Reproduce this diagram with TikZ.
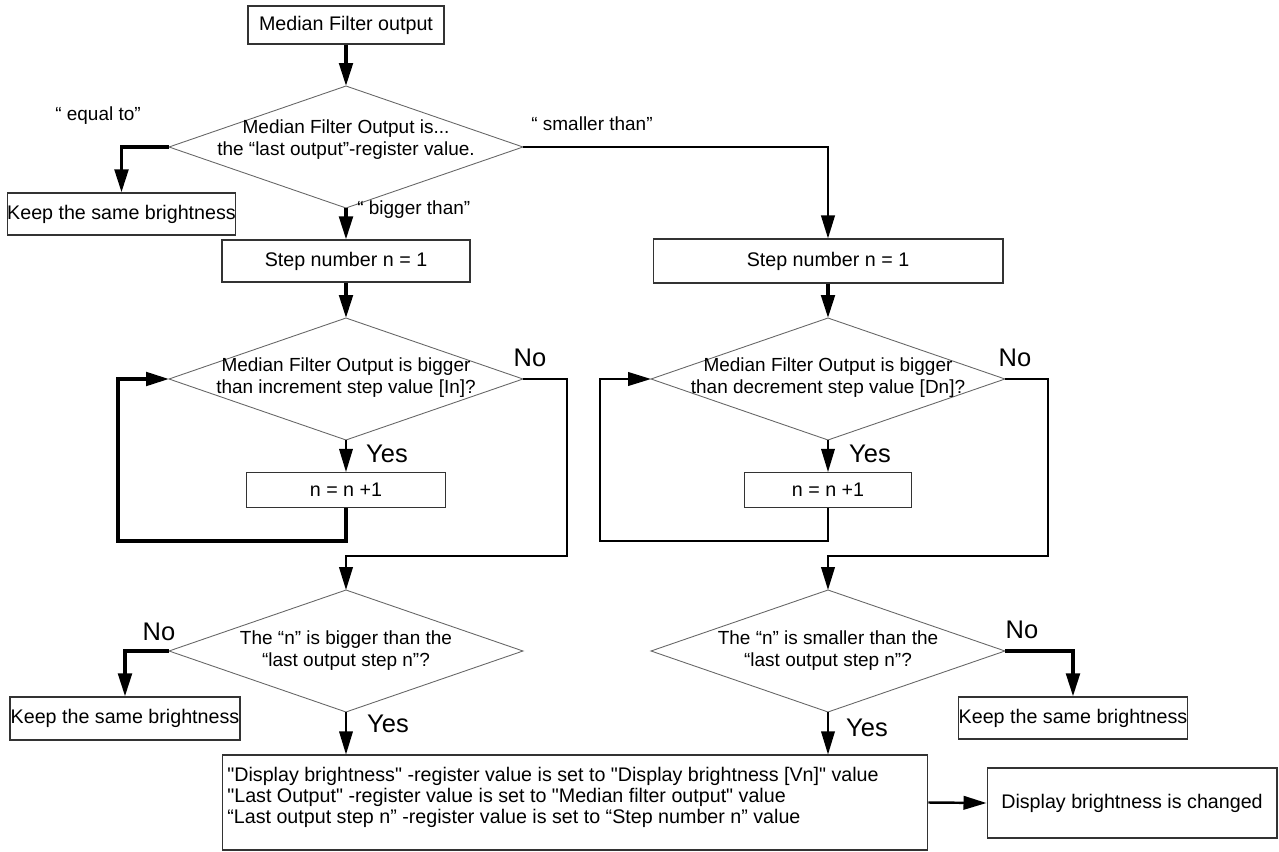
\documentclass[tikz,border=0pt]{standalone}
\usepackage{fontspec}
\setmainfont{Liberation Sans}[Ligatures=TeXOff]
\usetikzlibrary{arrows.meta,shapes.geometric}

\tikzset{
  box/.style={draw=black!80, line width=0.6pt, rectangle, inner sep=0pt,
    font=\fontsize{11.2}{13}\selectfont},
  dia/.style={draw=black!60, line width=0.5pt, diamond, inner sep=0pt, outer sep=0pt,
    minimum width=7.08cm, minimum height=2.44cm},
  dtext/.style={align=center, inner sep=0pt, font=\fontsize{10.8}{12.6}\selectfont},
  lbl/.style={inner sep=0pt, font=\fontsize{10.8}{12}\selectfont},
  yn/.style={inner sep=0pt, font=\fontsize{14.5}{16}\selectfont},
  tip/.tip={Triangle[length=0.46cm,width=0.27cm]},
  flow/.style={line width=2pt, -tip},
  flowthin/.style={line width=1.4pt, -tip},
  yesflow/.style={line width=1pt, -tip},
}

\begin{document}
\begin{tikzpicture}[x=0.02cm, y=-0.02cm]
  \useasboundingbox (0,0) rectangle (1279,852);

  % boxes
  \node[box, minimum width=3.92cm, minimum height=0.76cm] (start) at (346,25) {Median Filter output};
  \node[box, minimum width=4.54cm, minimum height=0.84cm] (keepA) at (121.5,214) {Keep the same brightness};
  \node[box, minimum width=4.96cm, minimum height=0.84cm] (stepL) at (346,261) {Step number n = 1};
  \node[box, minimum width=7.00cm, minimum height=0.88cm] (stepR) at (828,261) {Step number n = 1};
  \node[box, minimum width=3.98cm, minimum height=0.70cm] (incL) at (346,490) {n = n +1};
  \node[box, minimum width=3.34cm, minimum height=0.70cm] (incR) at (828,490) {n = n +1};
  \node[box, minimum width=4.60cm, minimum height=0.86cm] (keepB) at (125,718.5) {Keep the same brightness};
  \node[box, minimum width=4.56cm, minimum height=0.84cm] (keepC) at (1073,718) {Keep the same brightness};
  \node[box, minimum width=14.12cm, minimum height=1.9cm] (final) at (575,802.5) {};
  \node[box, minimum width=5.8cm, minimum height=1.4cm] (result) at (1132,803) {Display brightness is changed};
  \node[anchor=west, align=left, inner sep=0pt, font=\fontsize{11.2}{12}\selectfont] (finalT) at (227,797)
    {"Display brightness" -register value is set to "Display brightness [Vn]" value\\
     "Last Output" -register value is set to "Median filter output" value\\
     “Last output step n” -register value is set to “Step number n” value};

  % decisions
  \node[dia] (dMain) at (346,147) {};
  \node[dtext] (dMainT) at (346,140) {Median Filter Output is...\\the “last output”-register value.};
  \node[dia] (dInc) at (346,379) {};
  \node[dtext] (dIncT) at (346,378) {Median Filter Output is bigger\\than increment step value [In]?};
  \node[dia] (dDec) at (828,379) {};
  \node[dtext] (dDecT) at (828,378) {Median Filter Output is bigger\\than decrement step value [Dn]?};
  \node[dia] (dBig) at (346,651) {};
  \node[dtext] (dBigT) at (346,651) {The “n” is bigger than the\\“last output step n”?};
  \node[dia] (dSmall) at (828,651) {};
  \node[dtext] (dSmallT) at (828,651) {The “n” is smaller than the\\“last output step n”?};

  % labels
  \node[lbl] (lEqual) at (98,116) {“ equal to”};
  \node[lbl, anchor=west] (lBigger) at (357,210) {“ bigger than”};
  \node[lbl] (lSmaller) at (592,124) {“ smaller than”};
  \node[yn] (noInc) at (530,358) {No};
  \node[yn] (noDec) at (1015,358) {No};
  \node[yn] (noBig) at (159,632) {No};
  \node[yn] (noSmall) at (1022,630) {No};
  \node[yn] (yesInc) at (387,454) {Yes};
  \node[yn] (yesDec) at (870,454) {Yes};
  \node[yn] (yesBig) at (388,724) {Yes};
  \node[yn] (yesSmall) at (867,728) {Yes};

  % loop corners
  \coordinate (loopL) at (118,541);
  \coordinate (loopR) at (600,541);
  \coordinate (exitL) at (567,556);
  \coordinate (exitR) at (1048,556);

  % connectors
  \draw[flow] (start.south) -- (dMain.north);
  \draw[flow] (dMain.west) -| (keepA.north);
  \draw[flowthin] (dMain.east) -| (stepR.north);
  \draw[flow] (dMain.south) -- (stepL.north);
  \draw[flow] (stepL.south) -- (dInc.north);
  \draw[flow] (stepR.south) -- (dDec.north);
  \draw[yesflow] (dInc.south) -- (incL.north);
  \draw[yesflow] (dDec.south) -- (incR.north);
  \draw[flow] (incL.south) |- (loopL) |- (dInc.west);
  \draw[flowthin] (incR.south) |- (loopR) |- (dDec.west);
  \draw[flowthin] (dInc.east) -| (exitL) -| (dBig.north);
  \draw[flowthin] (dDec.east) -| (exitR) -| (dSmall.north);
  \draw[flow] (dBig.west) -| (keepB.north);
  \draw[flow] (dSmall.east) -| (keepC.north);
  \draw[yesflow] (dBig.south) -- (dBig.south |- final.north);
  \draw[yesflow] (dSmall.south) -- (dSmall.south |- final.north);
  \draw[flowthin] (final.east) -- (result.west);
\end{tikzpicture}
\end{document}
